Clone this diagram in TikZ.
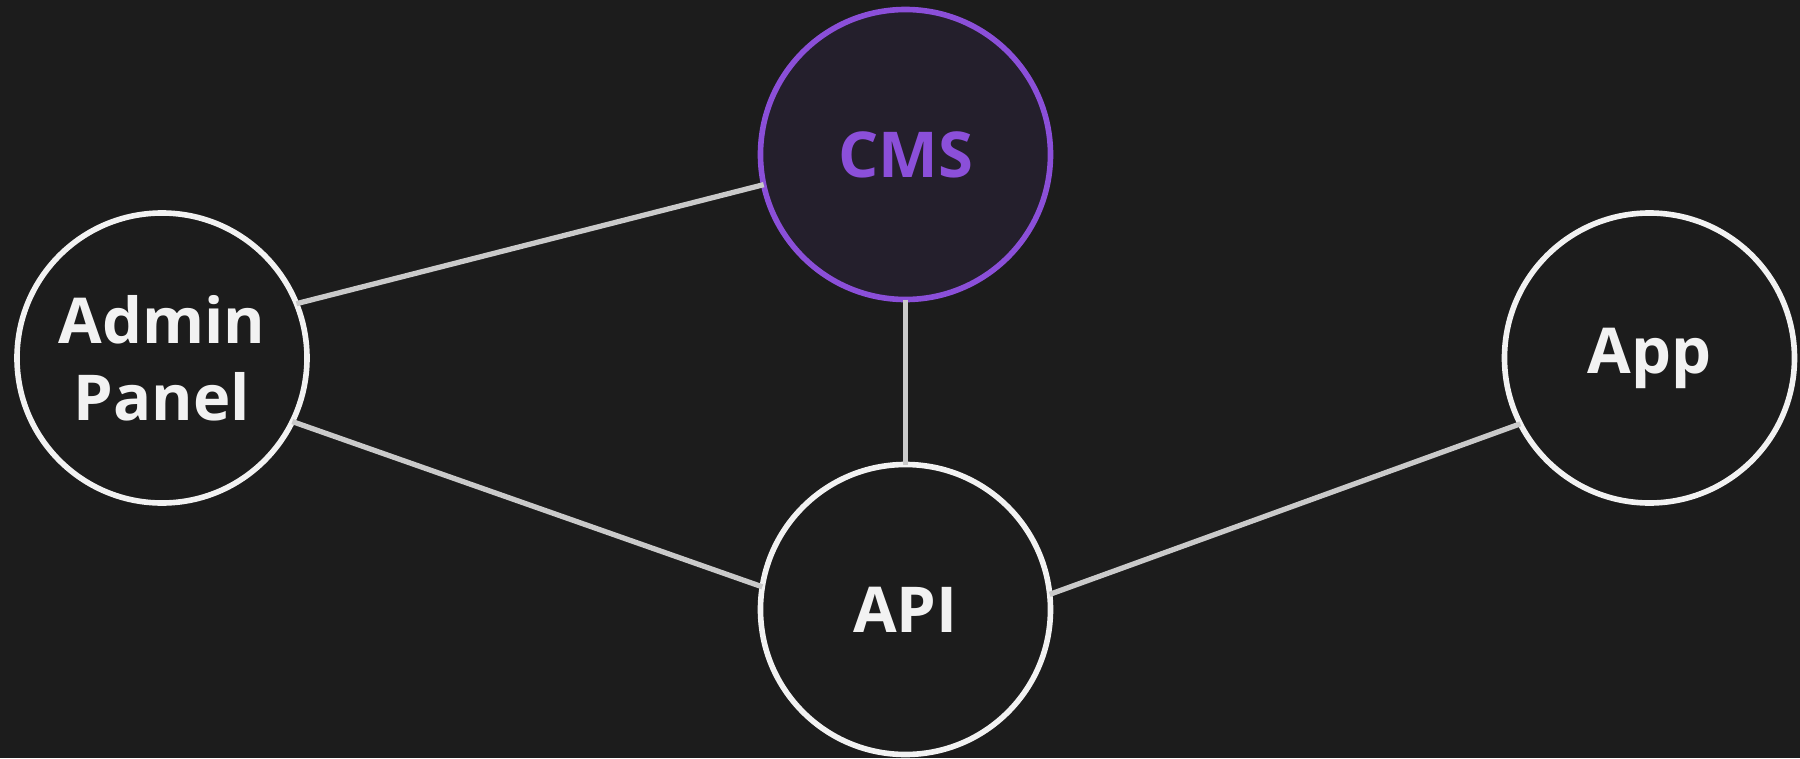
\documentclass[tikz,border=0pt]{standalone}
\usepackage{fontspec}
\setmainfont{Open Sans}
\usepackage{xcolor}
\usepackage{tikz}
\usetikzlibrary{positioning}
\definecolor{bgc}{HTML}{1C1C1C}
\definecolor{ringc}{HTML}{F2F2F2}
\definecolor{linkc}{HTML}{CACACA}
\definecolor{purc}{HTML}{8B4FD9}
\definecolor{purbg}{HTML}{241F2C}
\tikzset{
  svc/.style={circle,draw=ringc,line width=1.6pt,fill=bgc,minimum size=2.9cm,
    inner sep=0pt,outer sep=0pt,align=center,text=ringc,
    font=\fontsize{18}{22}\selectfont\bfseries},
  hub/.style={svc,draw=purc,fill=purbg,text=purc},
  link/.style={linkc,line width=1.5pt}
}
\begin{document}
\begin{tikzpicture}
\fill[bgc] (0,0) rectangle (18,7.58);
\node[hub] (cms) at (9.055,6.035) {CMS};
\node[svc] (admin) at (1.62,4.0) {Admin\\Panel};
\node[svc] (api) at (9.055,1.485) {API};
\node[svc] (app) at (16.495,4.0) {App};
\draw[link] (admin.22.4) -- (cms.-168.9);
\draw[link] (admin.-26) -- (api.171.7);
\draw[link] (cms.south) -- (api.north);
\draw[link] (api.6.4) -- (app.-153.7);
\end{tikzpicture}
\end{document}
